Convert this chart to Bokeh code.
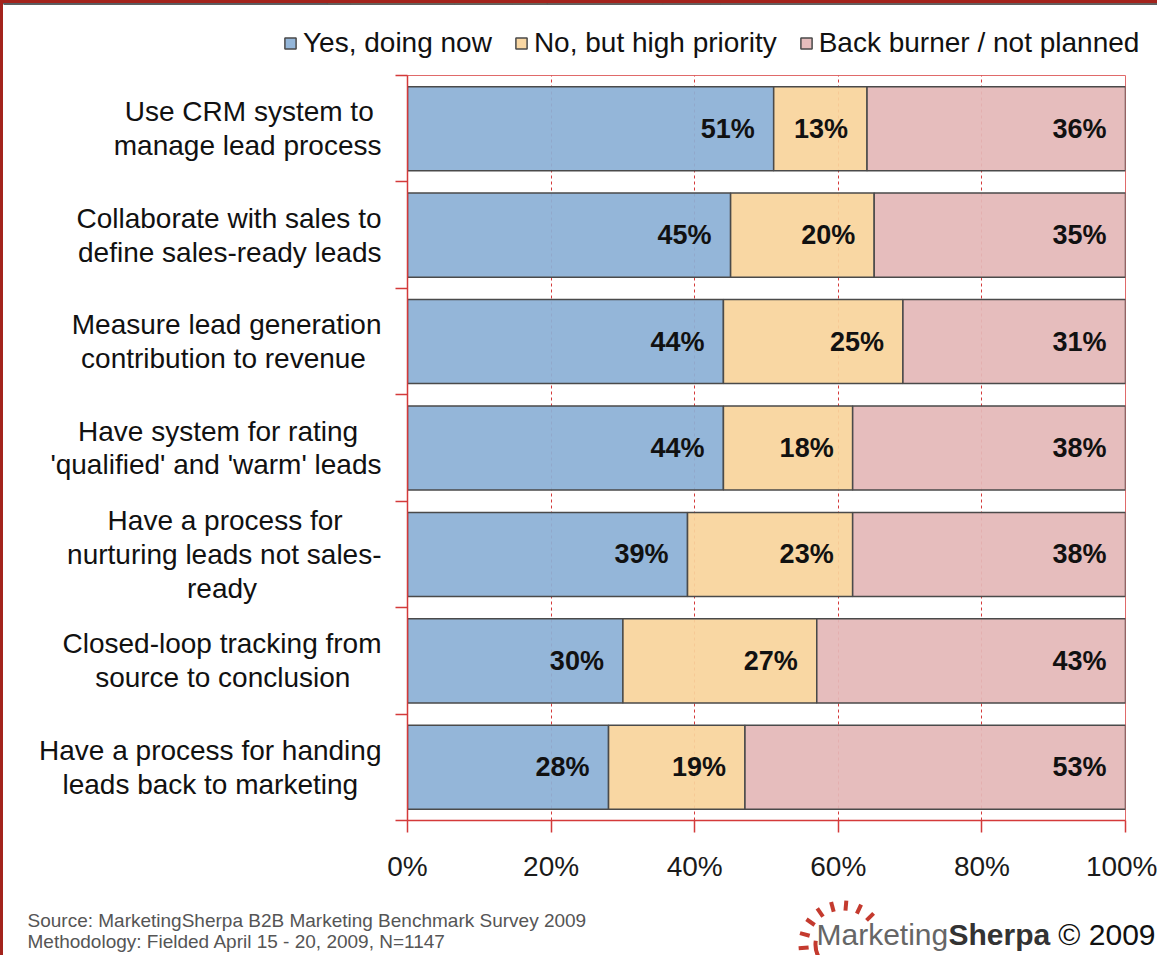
import math
from bokeh.plotting import figure
from bokeh.layouts import column
from bokeh.models import (Range1d, FixedTicker, PrintfTickFormatter,
                          Legend, LegendItem, ColumnDataSource)
from bokeh.core.properties import value
from bokeh.embed import file_html
from bokeh.resources import INLINE

# ---------------- data ----------------
categories = [
    "Use CRM system to\nmanage lead process",
    "Collaborate with sales to\ndefine sales-ready leads",
    "Measure lead generation\ncontribution to revenue",
    "Have system for rating\n'qualified' and 'warm' leads",
    "Have a process for\nnurturing leads not sales-\nready",
    "Closed-loop tracking from\nsource to conclusion",
    "Have a process for handing\nleads back to marketing",
]
yes_now = [51, 45, 44, 44, 39, 30, 28]
high_priority = [13, 20, 25, 18, 23, 27, 19]
back_burner = [36, 35, 31, 38, 38, 43, 53]
series_names = ["Yes, doing now", "No, but high priority", "Back burner / not planned"]
x_ticks = [0, 20, 40, 60, 80, 100]
source_lines = ["Source: MarketingSherpa B2B Marketing Benchmark Survey 2009",
                "Methodology: Fielded  April 15 - 20, 2009, N=1147"]
logo_parts = ["Marketing", "Sherpa", "\u00a9 2009"]

# ---------------- style ----------------
FONT = "Liberation Sans"
colors = ["#8CB0D6", "#F9D49C", "#E4B8B8"]
BAR_LINE = "#4a4a4a"
RED = "#D43A3A"
FRAME_RED = "#A3231C"
W = 1157
HEADER_H = 72
MAIN_H = 818
FOOT_H = 65

# approximate advance widths (1/1000 em) of the sans font, used only to centre
# the lines of each multi-line category label inside its right-aligned block
ADV = {' ': 278, "'": 191, '-': 333, 'a': 556, 'b': 556, 'c': 500, 'd': 556, 'e': 556,
       'f': 278, 'g': 556, 'h': 556, 'i': 222, 'k': 500, 'l': 222, 'm': 833, 'n': 556,
       'o': 556, 'p': 556, 'q': 556, 'r': 333, 's': 500, 't': 278, 'u': 556, 'v': 500,
       'w': 722, 'y': 500, 'C': 722, 'H': 722, 'M': 833, 'R': 722, 'U': 722}


def centred(label):
    lines = label.split("\n")
    widths = [sum(ADV.get(ch, 556) for ch in ln) for ln in lines]
    wmax = max(widths)
    return "\n".join(ln + "\u00a0" * int(round((wmax - w) / 2 / 278))
                     for ln, w in zip(lines, widths))


n = len(categories)
ys = [n - 0.5 - i for i in range(n)]
s2_r = [a + b for a, b in zip(yes_now, high_priority)]
s3_r = [a + b for a, b in zip(s2_r, back_burner)]

src = ColumnDataSource(dict(
    y=ys, l1=[0] * n, r1=yes_now, l2=yes_now, r2=s2_r, l3=s2_r, r3=s3_r,
    t1=[f"{v}%" for v in yes_now],
    t2=[f"{v}%" for v in high_priority],
    t3=[f"{v}%" for v in back_burner],
))
segments = [("l1", "r1"), ("l2", "r2"), ("l3", "r3")]


def blank(fig):
    fig.outline_line_color = None
    fig.grid.grid_line_color = None
    fig.background_fill_color = "white"
    fig.border_fill_color = "white"
    fig.frame_align = False


# ---------------- header (legend) ----------------
# same bar series, but the header's y range shows none of them: only the legend is seen
h = figure(width=W, height=HEADER_H, output_backend="svg", toolbar_location=None,
           x_range=Range1d(0, 100), y_range=Range1d(-20, -19),
           x_axis_type=None, y_axis_type=None, min_border=0)
blank(h)
h.styles = {"border-left": f"3px solid {FRAME_RED}", "border-top": f"3px solid {FRAME_RED}"}
leg_renderers = [h.hbar(y="y", left=l, right=r, height=0.79, source=src,
                        fill_color=c, fill_alpha=0.93, line_color=BAR_LINE, line_width=1.5)
                 for (l, r), c in zip(segments, colors)]
legend = Legend(items=[LegendItem(label=nm, renderers=[rr]) for nm, rr in zip(series_names, leg_renderers)],
                orientation="horizontal", location=(280, 16),
                label_text_font=FONT, label_text_font_size="28px", label_text_color="#111111",
                glyph_width=14, glyph_height=14, spacing=22, label_standoff=6,
                padding=0, margin=0, border_line_color=None, background_fill_alpha=0)
h.add_layout(legend)

# ---------------- main chart ----------------
p = figure(width=W, height=MAIN_H, output_backend="svg", toolbar_location=None,
           x_range=Range1d(0, 100), y_range=Range1d(0, n),
           min_border_left=404, min_border_right=35,
           min_border_top=3, min_border_bottom=70)
p.styles = {"border-left": f"3px solid {FRAME_RED}"}
p.frame_align = False
p.background_fill_color = "white"
p.border_fill_color = "white"
p.outline_line_color = "#E06A6A"
p.outline_line_width = 1

p.ygrid.grid_line_color = None
p.xgrid.ticker = FixedTicker(ticks=x_ticks)
p.xgrid.grid_line_color = RED
p.xgrid.grid_line_dash = "3 3"
p.xgrid.grid_line_width = 1

p.xaxis.ticker = FixedTicker(ticks=x_ticks)
p.xaxis.formatter = PrintfTickFormatter(format="%d%%")
p.xaxis.axis_line_color = RED
p.xaxis.axis_line_width = 1.5
p.xaxis.major_tick_line_color = RED
p.xaxis.major_tick_line_width = 1.5
p.xaxis.major_tick_out = 12
p.xaxis.major_tick_in = 0
p.xaxis.minor_tick_line_color = None
p.xaxis.major_label_text_font = FONT
p.xaxis.major_label_text_font_size = "28px"
p.xaxis.major_label_text_color = "#1a1a1a"
p.xaxis.major_label_standoff = 18

p.yaxis.ticker = FixedTicker(ticks=ys, minor_ticks=list(range(n + 1)))
p.yaxis.major_label_overrides = {y: centred(c) for y, c in zip(ys, categories)}
p.yaxis.major_label_text_font = FONT
p.yaxis.major_label_text_font_size = "28px"
p.yaxis.major_label_text_color = "#111111"
p.yaxis.major_label_text_line_height = 1.09
p.yaxis.major_label_standoff = 14
p.yaxis.axis_line_color = RED
p.yaxis.axis_line_width = 1.5
p.yaxis.major_tick_out = 0
p.yaxis.major_tick_in = 0
p.yaxis.major_tick_line_color = None
p.yaxis.minor_tick_line_color = RED
p.yaxis.minor_tick_line_width = 1.5
p.yaxis.minor_tick_out = 12
p.yaxis.minor_tick_in = 0

BAR_H = 0.79
for (l, r), c in zip(segments, colors):
    p.hbar(y="y", left=l, right=r, height=BAR_H, source=src,
           fill_color=c, fill_alpha=0.93, line_color=BAR_LINE, line_width=1.5)

for r, t in [("r1", "t1"), ("r2", "t2"), ("r3", "t3")]:
    p.text(x=r, y="y", text=t, source=src, x_offset=-19,
           text_align="right", text_baseline="middle",
           text_font=value(FONT), text_font_style="bold",
           text_font_size="27px", text_color="#111111")

# ---------------- footer ----------------
f = figure(width=W, height=FOOT_H, output_backend="svg", toolbar_location=None,
           x_range=Range1d(0, W), y_range=Range1d(FOOT_H, 0),
           x_axis_type=None, y_axis_type=None, min_border=0)
blank(f)
f.styles = {"border-left": f"3px solid {FRAME_RED}"}

f.text(x=[24, 24], y=[30, 51], text=source_lines, text_align="left", text_baseline="middle",
       text_font=value(FONT), text_font_size="19px", text_color="#555555")
f.text(x=[813], y=[44], text=[logo_parts[0]], text_align="left", text_baseline="middle",
       text_font=value(FONT), text_font_size="30px", text_color="#666666")
f.text(x=[945], y=[44], text=[logo_parts[1]], text_align="left", text_baseline="middle",
       text_font=value(FONT), text_font_style="bold", text_font_size="30px", text_color="#333333")
f.text(x=[1152], y=[44], text=[logo_parts[2]], text_align="right", text_baseline="middle",
       text_font=value(FONT), text_font_size="30px", text_color="#111111")

cx, cy = 839, 54
f.arc(x=[cx], y=[cy], radius=27, start_angle=math.radians(-188), end_angle=math.radians(-58),
      line_color="#C43A2E", line_width=4)
ray_angles = [45, 65, 85, 105, 125, 145, 165, 185]
f.segment(x0=[cx + 34 * math.cos(math.radians(a)) for a in ray_angles],
          y0=[cy - 34 * math.sin(math.radians(a)) for a in ray_angles],
          x1=[cx + 44 * math.cos(math.radians(a)) for a in ray_angles],
          y1=[cy - 44 * math.sin(math.radians(a)) for a in ray_angles],
          line_color="#C43A2E", line_width=4)

layout = column(h, p, f, spacing=0)
open("out.html", "w").write(file_html(layout, INLINE))
